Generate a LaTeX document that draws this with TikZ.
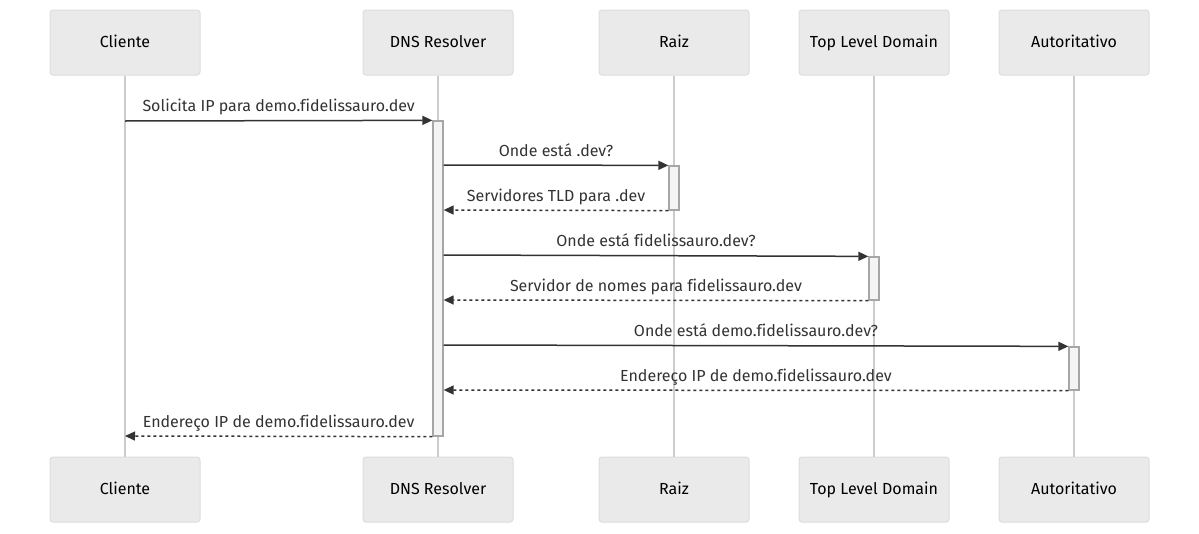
\documentclass[tikz,border=0pt]{standalone}
\usepackage{fontspec}
\setmainfont[Ligatures=NoCommon]{Fira Sans}
\usetikzlibrary{arrows.meta}
\definecolor{actorfill}{HTML}{EAEAEA}
\definecolor{actorline}{HTML}{DDDDDD}
\definecolor{lifeline}{HTML}{CCCCCC}
\definecolor{actfill}{HTML}{F4F4F4}
\definecolor{actline}{HTML}{A6A6A6}
\definecolor{msgline}{HTML}{333333}
\tikzset{
  actor/.style={draw=actorline, fill=actorfill, rounded corners=3pt, line width=1pt,
    minimum width=150pt, minimum height=65pt, inner sep=0pt, text height=12pt, text depth=3pt,
    font=\fontsize{16}{19}\selectfont},
  life/.style={draw=lifeline, line width=1.5pt},
  activ/.style={draw=actline, fill=actfill, line width=1.3pt, minimum width=10pt, inner sep=0pt},
  msg/.style={draw=msgline, line width=1.5pt, -{Triangle[length=10pt,width=9pt]}},
  reply/.style={msg, dash pattern=on 3pt off 3pt},
  lbl/.style={font=\fontsize{16}{19}\selectfont, inner sep=0pt, text height=12pt, text depth=3pt,
    text=msgline, above=5pt}
}
\begin{document}
\begin{tikzpicture}[x=1pt, y=-1pt]
    \useasboundingbox[fill=white] (0,0) rectangle (1199,533);
    % participants
    \node[actor] (cliT) at (125,42.5) {Cliente};
    \node[actor] (dnsT) at (438,42.5) {DNS Resolver};
    \node[actor] (raizT) at (674,42.5) {Raiz};
    \node[actor] (tldT) at (874,42.5) {Top Level Domain};
    \node[actor] (autT) at (1074,42.5) {Autoritativo};
    \node[actor] (cliB) at (125,489.5) {Cliente};
    \node[actor] (dnsB) at (438,489.5) {DNS Resolver};
    \node[actor] (raizB) at (674,489.5) {Raiz};
    \node[actor] (tldB) at (874,489.5) {Top Level Domain};
    \node[actor] (autB) at (1074,489.5) {Autoritativo};
    \foreach \p in {cli,dns,raiz,tld,aut}
        \draw[life] (\p T.south) -- (\p B.north);
    % activations
    \node[activ, minimum height=315pt] (dnsA) at (438,278.5) {};
    \node[activ, minimum height=44pt] (raizA) at (674,188) {};
    \node[activ, minimum height=43pt] (tldA) at (874,278.5) {};
    \node[activ, minimum height=43pt] (autA) at (1074,368.5) {};
    % messages
    \coordinate (m1a) at (125,121);
    \coordinate (m8b) at (125,436);
    \draw[msg] (m1a) -- node[lbl] {Solicita IP para demo.fidelissauro.dev} (dnsA.north west);
    \draw[msg] (dnsA.east |- 0,165) -- node[lbl] {Onde está .dev?} (raizA.north west);
    \draw[reply] (raizA.south west) -- node[lbl] {Servidores TLD para .dev} (dnsA.east |- 0,210);
    \draw[msg] (dnsA.east |- 0,255) -- node[lbl] {Onde está fidelissauro.dev?} (tldA.north west);
    \draw[reply] (tldA.south west) -- node[lbl] {Servidor de nomes para fidelissauro.dev} (dnsA.east |- 0,300);
    \draw[msg] (dnsA.east |- 0,345) -- node[lbl] {Onde está demo.fidelissauro.dev?} (autA.north west);
    \draw[reply] (autA.south west) -- node[lbl] {Endereço IP de demo.fidelissauro.dev} (dnsA.east |- 0,390);
    \draw[reply] (dnsA.south west) -- node[lbl] {Endereço IP de demo.fidelissauro.dev} (m8b);
\end{tikzpicture}
\end{document}
